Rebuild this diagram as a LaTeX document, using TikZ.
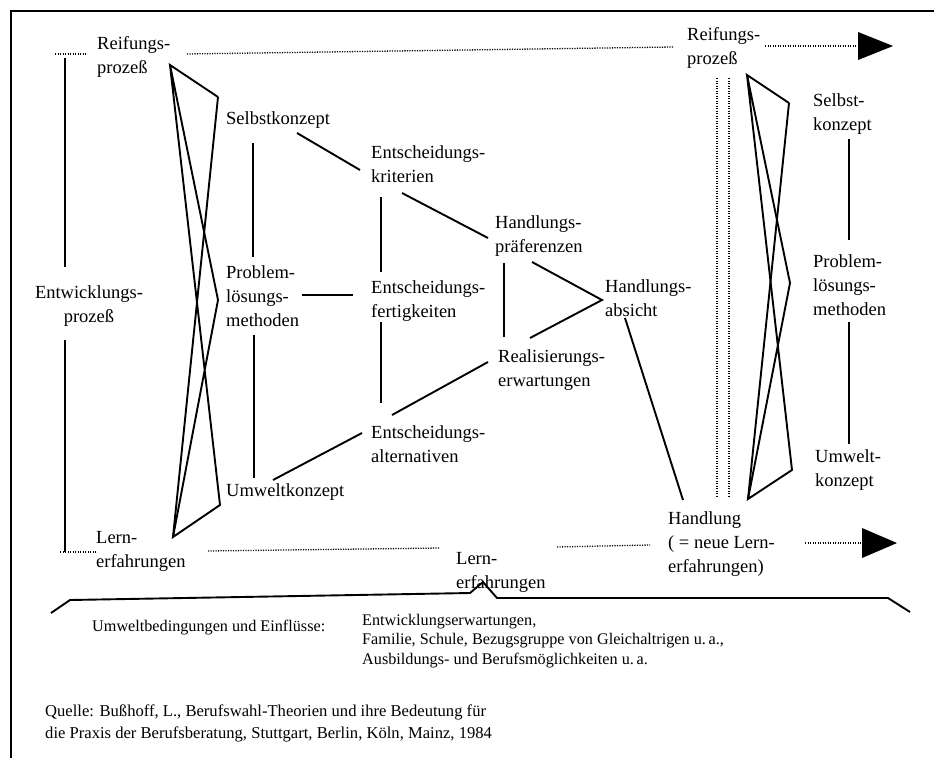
\documentclass[tikz,border=0pt]{standalone}
\usepackage{fontspec}
\setmainfont{Liberation Serif}
\begin{document}
\begin{tikzpicture}[x=1pt,y=-1pt,
  lbl/.style={font=\fontsize{18.5}{24}\selectfont, inner sep=0pt, align=left, anchor=west},
  smalltxt/.style={font=\fontsize{16.2}{19.5}\selectfont, inner sep=0pt, align=left},
  srctxt/.style={font=\fontsize{16.6}{22}\selectfont, inner sep=0pt, align=left},
  con/.style={line width=1.9pt},
  dotln/.style={line width=1.3pt, dash pattern=on 1.2pt off 1.3pt},
  frameln/.style={line width=2.4pt},
  tip/.style={fill=black, draw=none}]
\useasboundingbox (0,0) rectangle (934,758);
% frame
\coordinate (fr1) at (934,11); \coordinate (fr2) at (11,11); \coordinate (fr3) at (11,758);
\draw[frameln] (fr1) -- (fr2) -- (fr3);

% labels
\node[lbl] (reif1) at (97,57) {Reifungs-\\prozeß};
\node[lbl, align=center, anchor=center] (entw) at (89,306) {Entwicklungs-\\prozeß};
\node[lbl] (lern1) at (96,551) {Lern-\\erfahrungen};
\node[lbl] (selbst) at (226,120) {Selbstkonzept};
\node[lbl] (prob) at (226,296) {Problem-\\lösungs-\\methoden};
\node[lbl] (umwelt) at (226,492) {Umweltkonzept};
\node[lbl] (krit) at (371,164) {Entscheidungs-\\kriterien};
\node[lbl] (fert) at (371,301) {Entscheidungs-\\fertigkeiten};
\node[lbl] (alt) at (371,444) {Entscheidungs-\\alternativen};
\node[lbl] (praef) at (495,236) {Handlungs-\\präferenzen};
\node[lbl] (real) at (498,370) {Realisierungs-\\erwartungen};
\node[lbl] (absicht) at (605,298) {Handlungs-\\absicht};
\node[lbl] (reif2) at (687,48) {Reifungs-\\prozeß};
\node[lbl] (selbst2) at (813,114) {Selbst-\\konzept};
\node[lbl] (prob2) at (813,285) {Problem-\\lösungs-\\methoden};
\node[lbl] (umwelt2) at (815,470) {Umwelt-\\konzept};
\node[lbl] (handl) at (668,544) {Handlung\\( = neue Lern-\\erfahrungen)};
\node[lbl] (lern2) at (456,572) {Lern-\\erfahrungen};

% left vertical (Entwicklungsprozess)
\coordinate (ev1) at (65,58); \coordinate (ev2) at (65,267);
\coordinate (ev3) at (65,340); \coordinate (ev4) at (65,552);
\draw[con] (ev1) -- (ev2); \draw[con] (ev3) -- (ev4);
\coordinate (d1a) at (55,54); \coordinate (d1b) at (87,54);
\coordinate (d2a) at (60,552); \coordinate (d2b) at (97,552);
\draw[dotln] (d1a) -- (d1b); \draw[dotln] (d2a) -- (d2b);

% top dotted line and arrow
\coordinate (t1) at (187,54); \coordinate (t2) at (673,47);
\coordinate (t3) at (765,46); \coordinate (t4) at (859,46);
\draw[dotln] (t1) -- (t2); \draw[dotln] (t3) -- (t4);
\coordinate (ta1) at (858,32); \coordinate (ta2) at (893,46); \coordinate (ta3) at (858,60);
\fill[tip] (ta1) -- (ta2) -- (ta3) -- cycle;

% bottom dotted lines and arrow
\coordinate (b1) at (208,551); \coordinate (b2) at (440,548);
\coordinate (b3) at (557,547); \coordinate (b4) at (650,545);
\coordinate (b5) at (805,543); \coordinate (b6) at (863,543);
\draw[dotln] (b1) -- (b2); \draw[dotln] (b3) -- (b4); \draw[dotln] (b5) -- (b6);
\coordinate (ba1) at (862,528); \coordinate (ba2) at (897,543); \coordinate (ba3) at (862,558);
\fill[tip] (ba1) -- (ba2) -- (ba3) -- cycle;

% left X
\coordinate (LT) at (170,65); \coordinate (LR1) at (218,97); \coordinate (LM) at (218,300);
\coordinate (LR2) at (220,505); \coordinate (LB) at (173,537);
\draw[con, line join=miter] (LR1) -- (LT) -- (LM) -- (LB) -- (LR2) -- (LT);
\draw[con] (LB) -- (LR1);

% right X
\coordinate (RT) at (747,75); \coordinate (RR1) at (789,103); \coordinate (RM) at (790,283);
\coordinate (RR2) at (792,470); \coordinate (RB) at (748,499);
\draw[con, line join=miter] (RR1) -- (RT) -- (RM) -- (RB) -- (RR2) -- (RT);
\draw[con] (RB) -- (RR1);

% double dotted verticals
\coordinate (dv1) at (717,78); \coordinate (dv2) at (717,496);
\coordinate (dv3) at (729,78); \coordinate (dv4) at (729,496);
\draw[dotln] (dv1) -- (dv2); \draw[dotln] (dv3) -- (dv4);

% right column verticals
\coordinate (rs1) at (849,139); \coordinate (rs2) at (849,240);
\coordinate (rs3) at (849,322); \coordinate (rs4) at (849,444);
\draw[con] (rs1) -- (rs2); \draw[con] (rs3) -- (rs4);

% middle connectors
\coordinate (s1) at (253,143); \coordinate (s2) at (253,257);
\coordinate (p1) at (254,335); \coordinate (p2) at (254,478);
\draw[con] (s1) -- (s2); \draw[con] (p1) -- (p2);
\coordinate (h1) at (302,295); \coordinate (h2) at (353,295);
\draw[con] (h1) -- (h2);
\coordinate (sk1) at (297,133); \coordinate (sk2) at (360,170);
\draw[con] (sk1) -- (sk2);
\coordinate (ua1) at (273,480); \coordinate (ua2) at (362,433);
\draw[con] (ua1) -- (ua2);
\coordinate (k1) at (381,197); \coordinate (k2) at (381,272);
\coordinate (f1) at (381,322); \coordinate (f2) at (381,403);
\draw[con] (k1) -- (k2); \draw[con] (f1) -- (f2);
\coordinate (kp1) at (402,193); \coordinate (kp2) at (488,238);
\draw[con] (kp1) -- (kp2);
\coordinate (ar1) at (392,415); \coordinate (ar2) at (488,362);
\draw[con] (ar1) -- (ar2);
\coordinate (pv1) at (504,263); \coordinate (pv2) at (504,337);
\draw[con] (pv1) -- (pv2);
\coordinate (va) at (532,262); \coordinate (vb) at (602,300); \coordinate (vc) at (530,338);
\draw[con] (va) -- (vb) -- (vc);
\coordinate (ah1) at (625,318); \coordinate (ah2) at (683,500);
\draw[con] (ah1) -- (ah2);

% brace
\coordinate (br1) at (51,613); \coordinate (br2) at (70,600); \coordinate (br3) at (470,593);
\coordinate (br4) at (483,582); \coordinate (br5) at (497,598); \coordinate (br6) at (888,598);
\coordinate (br7) at (910,612);
\draw[con] (br1) -- (br2) -- (br3) -- (br4) -- (br5) -- (br6) -- (br7);

% bottom texts
\node[smalltxt, anchor=west] (umwb) at (92,628) {Umweltbedingungen und Einflüsse:};
\node[smalltxt, anchor=north west] (einfl) at (362,614) {Entwicklungserwartungen,\\Familie, Schule, Bezugsgruppe von Gleichaltrigen u.\,a.,\\Ausbildungs- und Berufsmöglichkeiten u.\,a.};
\node[srctxt, anchor=west] (quelle) at (45,723) {Quelle: Bußhoff, L., Berufswahl-Theorien und ihre Bedeutung für\\die Praxis der Berufsberatung, Stuttgart, Berlin, Köln, Mainz, 1984};
\end{tikzpicture}
\end{document}
